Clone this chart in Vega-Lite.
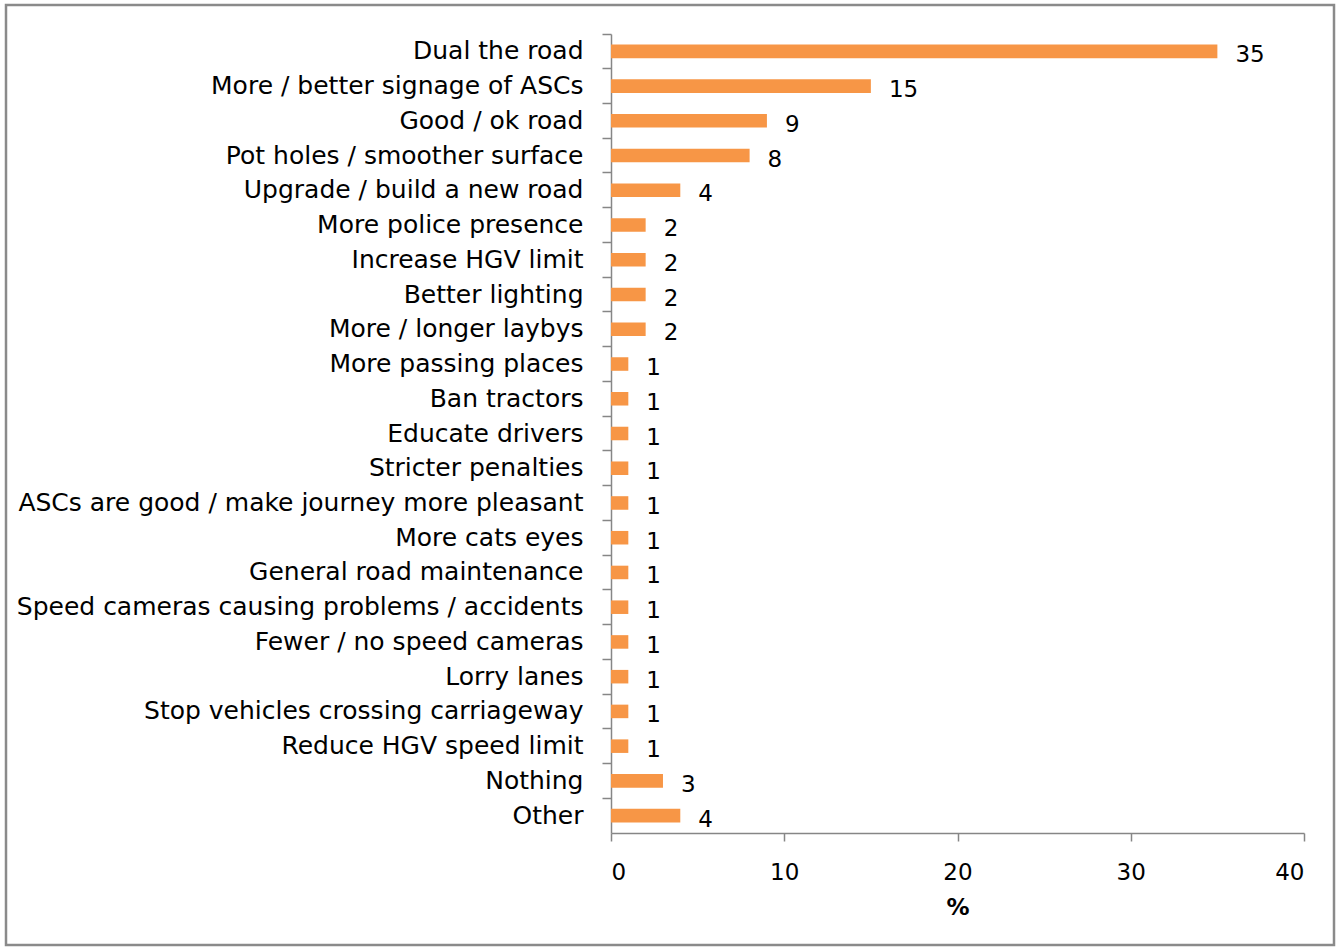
{
  "$schema": "https://vega.github.io/schema/vega-lite/v6.json",
  "width": 693,
  "height": 799,
  "autosize": {"type": "none"},
  "padding": {"left": 611, "top": 34, "right": 36, "bottom": 118},
  "background": "white",
  "config": {
    "view": {"stroke": null},
    "font": "DejaVu Sans",
    "text": {"font": "DejaVu Sans"}
  },
  "data": {
    "values": [
      {"item": "Dual the road", "pct": 35},
      {"item": "More / better signage of ASCs", "pct": 15},
      {"item": "Good / ok road", "pct": 9},
      {"item": "Pot holes / smoother surface", "pct": 8},
      {"item": "Upgrade / build a new road", "pct": 4},
      {"item": "More police presence", "pct": 2},
      {"item": "Increase HGV limit", "pct": 2},
      {"item": "Better lighting", "pct": 2},
      {"item": "More / longer laybys", "pct": 2},
      {"item": "More passing places", "pct": 1},
      {"item": "Ban tractors", "pct": 1},
      {"item": "Educate drivers", "pct": 1},
      {"item": "Stricter penalties", "pct": 1},
      {"item": "ASCs are good / make journey more pleasant\u00a0", "pct": 1},
      {"item": "More cats eyes", "pct": 1},
      {"item": "General road maintenance", "pct": 1},
      {"item": "Speed cameras causing problems / accidents", "pct": 1},
      {"item": "Fewer / no speed cameras", "pct": 1},
      {"item": "Lorry lanes", "pct": 1},
      {"item": "Stop vehicles crossing carriageway\u00a0", "pct": 1},
      {"item": "Reduce HGV speed limit", "pct": 1},
      {"item": "Nothing", "pct": 3},
      {"item": "Other", "pct": 4}
    ]
  },
  "layer": [
    {
      "data": {"values": [{}]},
      "mark": {"type": "rect", "fill": null, "stroke": "#8a8a8a", "strokeWidth": 2.5},
      "encoding": {
        "x": {"value": -605},
        "x2": {"value": 723},
        "y": {"value": -29},
        "y2": {"value": 911}
      }
    },
    {
      "mark": {"type": "bar", "color": "#F79646", "height": {"band": 0.39}},
      "encoding": {
        "y": {
          "field": "item", "type": "nominal", "sort": null,
          "scale": {"paddingInner": 0, "paddingOuter": 0},
          "axis": {
            "title": null,
            "bandPosition": 0,
            "labelFont": "DejaVu Sans",
            "labelFontSize": 25,
            "labelColor": "#000000",
            "labelPadding": 19,
            "labelLimit": 0,
            "tickSize": 9,
            "tickWidth": 1.5,
            "tickColor": "#868686",
            "domainColor": "#868686",
            "domainWidth": 1.5
          }
        },
        "x": {
          "field": "pct", "type": "quantitative",
          "scale": {"domain": [0, 40]},
          "axis": {
            "title": "%",
            "titleFont": "DejaVu Sans",
            "titleFontSize": 23,
            "titleFontWeight": "bold",
            "titleColor": "#000000",
            "titlePadding": 12,
            "values": [0, 10, 20, 30, 40],
            "grid": false,
            "labelFont": "DejaVu Sans",
            "labelFontSize": 23,
            "labelColor": "#000000",
            "labelPadding": 20,
            "tickSize": 8,
            "tickWidth": 1.5,
            "tickColor": "#868686",
            "domainColor": "#868686",
            "domainWidth": 1.5
          }
        }
      }
    },
    {
      "mark": {"type": "text", "align": "left", "baseline": "middle", "dx": 18, "dy": 4, "fontSize": 23, "font": "DejaVu Sans", "color": "#000000"},
      "encoding": {
        "y": {"field": "item", "type": "nominal", "sort": null},
        "x": {"field": "pct", "type": "quantitative"},
        "text": {"field": "pct", "type": "quantitative"}
      }
    }
  ]
}
